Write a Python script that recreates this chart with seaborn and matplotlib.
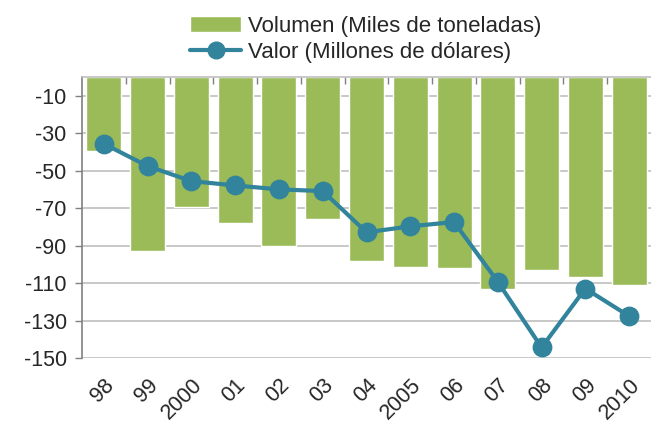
import matplotlib
matplotlib.use("Agg")
import matplotlib.pyplot as plt
import seaborn as sns
import pandas as pd
from matplotlib.patches import Patch
from matplotlib.lines import Line2D
from matplotlib.ticker import FixedLocator

years = ["98", "99", "2000", "01", "02", "03", "04", "2005", "06", "07", "08", "09", "2010"]
volumen = [-39.3, -93, -69.5, -77.9, -90.2, -76, -98.3, -101.2, -102, -112.9, -103.1, -106.5, -111.1]
valor = [-35.7, -47.6, -55.6, -57.9, -60, -60.9, -82.9, -79.7, -77.4, -109.3, -144.3, -112.9, -127.6]
yticks = [-10, -30, -50, -70, -90, -110, -130, -150]

bar_color = "#9BBB59"
line_color = "#31849B"

df = pd.DataFrame({"Año": years, "Volumen": volumen, "Valor": valor})

sns.set_style("white")
plt.rcParams["font.family"] = ["Liberation Sans", "DejaVu Sans"]

fig = plt.figure(figsize=(6.51, 4.32), dpi=100)
ax = fig.add_axes([0.126, 0.171, 0.874, 0.651])

sns.barplot(data=df, x="Año", y="Volumen", color=bar_color, width=0.8,
            saturation=1, ax=ax, zorder=2)
sns.pointplot(data=df, x="Año", y="Valor", color=line_color, markers="o",
              linewidth=3, markersize=12, ax=ax, zorder=3)

ax.set_xlim(-0.5, len(years) - 0.5)
ax.set_ylim(-150, 0)
ax.set_yticks(yticks)
ax.set_yticklabels([str(t) for t in yticks], fontsize=15.5)
ax.yaxis.grid(True, color="#BFBFBF", linewidth=1.2, zorder=0)
ax.set_axisbelow(True)
ax.set_xlabel("")
ax.set_ylabel("")

ax.set_xticks(range(len(years)))
ax.set_xticklabels(years, rotation=45, ha="right", rotation_mode="anchor", fontsize=15.5)
ax.xaxis.set_minor_locator(FixedLocator([i + 0.5 for i in range(len(years) - 1)]))
ax.tick_params(axis="x", which="major", length=0, pad=12)
ax.tick_params(axis="x", which="minor", top=True, bottom=False, direction="in",
               length=5, color="#808080", width=1)
ax.tick_params(axis="y", which="major", left=True, length=5, color="#808080",
               width=1, pad=6)

for side in ["right", "bottom"]:
    ax.spines[side].set_visible(False)
ax.spines["left"].set_color("#808080")
ax.spines["top"].set_color("#BFBFBF")
ax.spines["left"].set_linewidth(1.2)
ax.spines["top"].set_linewidth(1.2)

handles = [
    Patch(facecolor=bar_color, label="Volumen (Miles de toneladas)"),
    Line2D([0], [0], color=line_color, lw=3, marker="o", markersize=12,
           label="Valor (Millones de dólares)"),
]
fig.legend(handles=handles, loc="upper left", bbox_to_anchor=(0.268, 1.0),
           frameon=False, fontsize=16, handlelength=2.3, handletextpad=0.3,
           labelspacing=0.25, borderaxespad=0.3)

fig.savefig("out.png", dpi=100)
